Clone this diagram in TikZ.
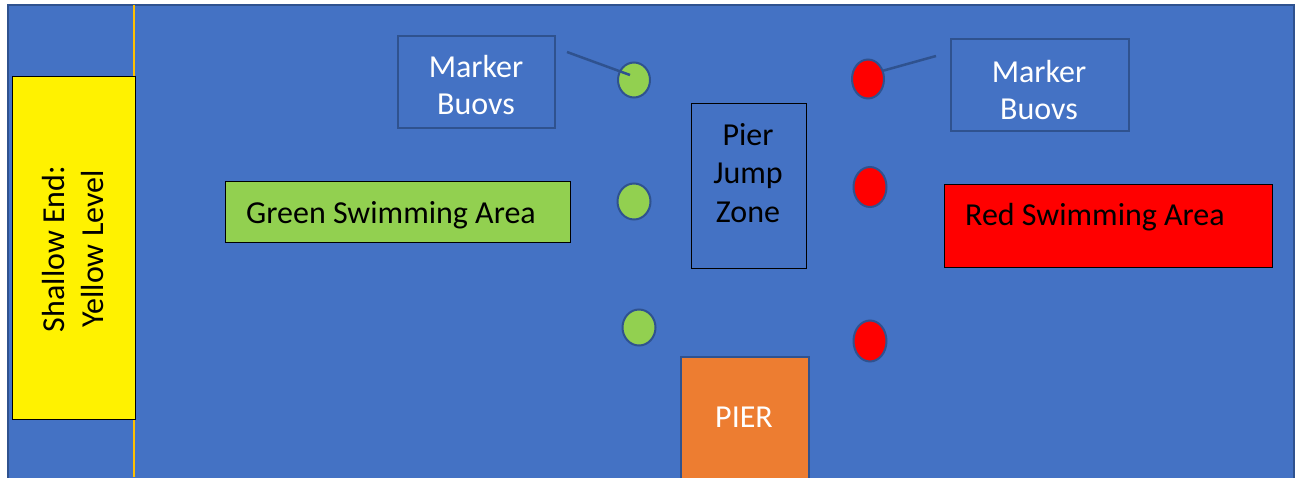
\documentclass[tikz,border=0pt]{standalone}
\usepackage{fontspec}
\setmainfont{Carlito}
\usetikzlibrary{shapes.geometric}
\definecolor{water}{HTML}{4472C4}
\definecolor{edge}{HTML}{2F528F}
\definecolor{buoyg}{HTML}{92D050}
\definecolor{buoyr}{HTML}{FF0000}
\definecolor{pierc}{HTML}{ED7D31}
\definecolor{gold}{HTML}{FFC000}
\tikzset{
  box/.style={rectangle, inner sep=0pt, anchor=north west},
  blackbox/.style={box, draw=black, line width=1.3pt},
  bluebox/.style={box, draw=edge, line width=2.2pt},
  gbuoy/.style={ellipse, draw=edge, line width=2pt, fill=buoyg, inner sep=0pt},
  rbuoy/.style={ellipse, draw=edge, line width=2pt, fill=buoyr, inner sep=0pt},
  lbl/.style={font=\fontsize{32}{38.5}\selectfont, inner sep=0pt},
  leader/.style={draw=edge, line width=2.5pt}
}
\begin{document}
\begin{tikzpicture}[x=1pt,y=-1pt]
\useasboundingbox (0,0) rectangle (1302,477);
\fill[white] (0,0) rectangle (1302,477);
% water
\path[fill=water, draw=edge, line width=1.5pt] (8,5) rectangle (1294,485);
% gold line
\draw[gold, line width=2pt] (134,5) -- (134,477);
% shallow end
\node[blackbox, fill=yellow, minimum width=123pt, minimum height=343pt] (shallow) at (12,76) {};
\node[lbl, rotate=90, align=center] (shallowtxt) at (73,249) {Shallow End:\\Yellow Level};
% green area
\node[blackbox, fill=buoyg, minimum width=345pt, minimum height=61pt] (green) at (225,181) {};
\node[lbl, anchor=base west] (greentxt) at (246,223) {Green Swimming Area};
% red area
\node[blackbox, fill=buoyr, minimum width=328pt, minimum height=83pt] (red) at (943.5,184) {};
\node[lbl, anchor=base west] (redtxt) at (965,225) {Red Swimming Area};
% pier jump zone
\node[box, draw=black, line width=1.2pt, minimum width=115pt, minimum height=165pt] (jump) at (691,103) {};
\node[lbl, anchor=base] (jumptxt) at (748,145) {Pier};
\node[lbl, anchor=base] (jumptxt2) at (748,183.5) {Jump};
\node[lbl, anchor=base] (jumptxt3) at (748,222) {Zone};
% pier
\node[box, draw=edge, line width=2pt, fill=pierc, minimum width=128pt, minimum height=125pt] (pier) at (680,356) {};
\node[lbl, anchor=base, text=white] (piertxt) at (744,427) {PIER};
% marker boxes
\node[bluebox, minimum width=157pt, minimum height=92pt] (mleft) at (397,35) {};
\node[lbl, anchor=base, text=white] (mlefta) at (476,77) {Marker};
\node[lbl, anchor=base, text=white] (mleftb) at (476,114.5) {Buovs};
\node[bluebox, minimum width=178pt, minimum height=92pt] (mright) at (950,38) {};
\node[lbl, anchor=base, text=white] (mrighta) at (1039,82) {Marker};
\node[lbl, anchor=base, text=white] (mrightb) at (1039,119.5) {Buovs};
% buoys
\node[gbuoy, minimum width=32pt, minimum height=35pt] (g1) at (634,80) {};
\node[gbuoy, minimum width=33pt, minimum height=36pt] (g2) at (634,201.5) {};
\node[gbuoy, minimum width=33pt, minimum height=36pt] (g3) at (639,327.5) {};
\node[rbuoy, minimum width=32pt, minimum height=39pt] (r1) at (868,79) {};
\node[rbuoy, minimum width=33pt, minimum height=40pt] (r2) at (870,187) {};
\node[rbuoy, minimum width=33pt, minimum height=41pt] (r3) at (870,341) {};
% leaders
\coordinate (la) at (567,52);
\coordinate (lb) at (630,75);
\coordinate (ra) at (936,56);
\coordinate (rb) at (882,71);
\draw[leader] (la) -- (lb);
\draw[leader] (ra) -- (rb);
\end{tikzpicture}
\end{document}
